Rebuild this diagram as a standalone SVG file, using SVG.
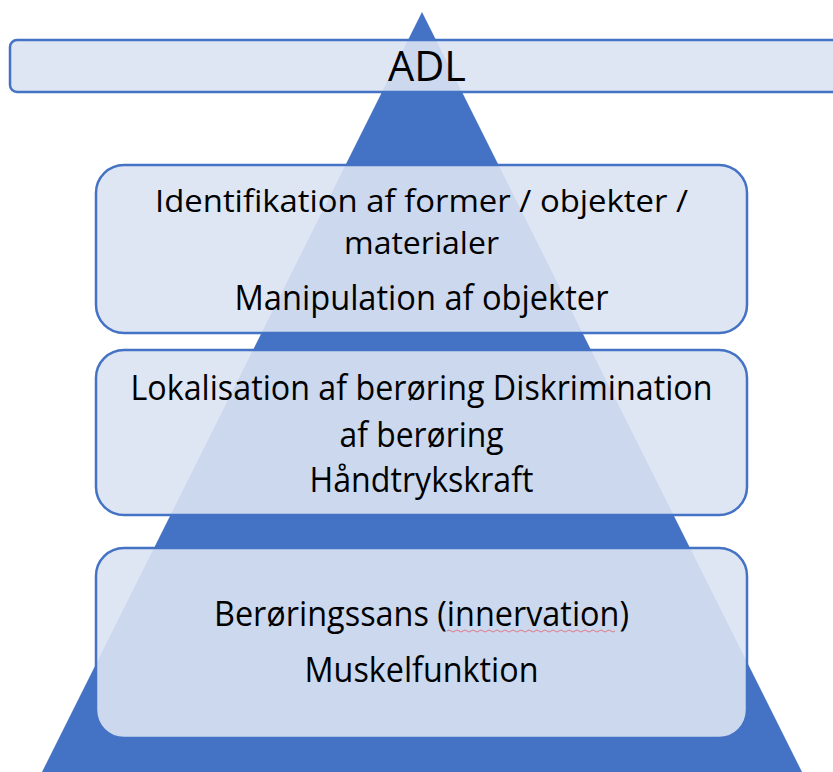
<svg xmlns="http://www.w3.org/2000/svg" width="833" height="772" viewBox="0 0 833 772">
<style>
.box{fill:#dae3f3;fill-opacity:0.9;stroke:#4472c4;stroke-width:2.5}
.t{font-family:"Open Sans","Noto Sans","Liberation Sans",sans-serif;fill:#000;text-anchor:middle}
.s{font-size:34px}
.s2{font-size:31px}
</style>
<rect width="833" height="772" fill="#ffffff"/>
<g id="pyramid">
<polygon points="422,12 802,772 42,772" fill="#4472c4"/>
</g>
<g id="connectors"></g>
<g id="adl">
<rect class="box" x="10" y="40" width="840" height="52" rx="7"/>
<text class="t" x="427" y="81" font-size="42" textLength="78" lengthAdjust="spacingAndGlyphs">ADL</text>
</g>
<g id="level3">
<rect class="box" x="96" y="165" width="651" height="168" rx="28"/>
<text class="t s2" x="421.5" y="212" textLength="533" lengthAdjust="spacingAndGlyphs">Identifikation af former / objekter /</text>
<text class="t s2" x="421.5" y="254" textLength="155" lengthAdjust="spacingAndGlyphs">materialer</text>
<text class="t s" x="421.5" y="310" textLength="374" lengthAdjust="spacingAndGlyphs">Manipulation af objekter</text>
</g>
<g id="level2">
<rect class="box" x="96" y="350" width="651" height="165" rx="28"/>
<text class="t s" x="421.5" y="400" textLength="582" lengthAdjust="spacingAndGlyphs">Lokalisation af berøring Diskrimination</text>
<text class="t s" x="421.5" y="447" textLength="164" lengthAdjust="spacingAndGlyphs">af berøring</text>
<text class="t s" x="421.5" y="492" textLength="224" lengthAdjust="spacingAndGlyphs">Håndtrykskraft</text>
</g>
<g id="level1">
<rect class="box" x="96" y="548" width="651" height="190" rx="28"/>
<text class="t s" x="421.5" y="626" textLength="415" lengthAdjust="spacingAndGlyphs">Berøringssans (innervation)</text>
<path d="M447,631 q2,-2 4,0 t4,0 t4,0 t4,0 t4,0 t4,0 t4,0 t4,0 t4,0 t4,0 t4,0 t4,0 t4,0 t4,0 t4,0 t4,0 t4,0 t4,0 t4,0 t4,0 t4,0 t4,0 t4,0 t4,0 t4,0 t4,0 t4,0 t4,0 t4,0 t4,0 t4,0 t4,0 t4,0 t4,0 t4,0 t4,0 t4,0 t4,0 t4,0 t4,0 t4,0 t4,0" fill="none" stroke="#e07a86" stroke-width="1"/>
<text class="t s" x="421.5" y="682" textLength="234" lengthAdjust="spacingAndGlyphs">Muskelfunktion</text>
</g>
</svg>
